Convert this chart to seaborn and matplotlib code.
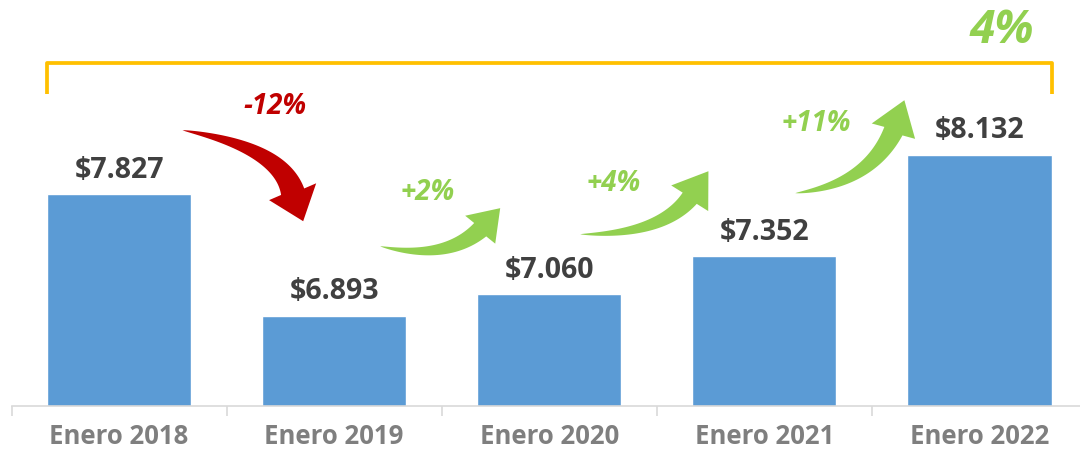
import numpy as np
import pandas as pd
import seaborn as sns
import matplotlib.pyplot as plt
from matplotlib.patches import Polygon

meses = ['Enero 2018', 'Enero 2019', 'Enero 2020', 'Enero 2021', 'Enero 2022']
valores = [7827, 6893, 7060, 7352, 8132]

data = pd.DataFrame({'mes': meses, 'valor': valores})

# variaciones entre anios y total
cambios = np.diff(valores) / np.array(valores[:-1]) * 100
total = (valores[-1] - valores[0]) / valores[0] * 100

AZUL = '#5B9BD5'
ROJO = '#C00000'
VERDE = '#92D050'
AMARILLO = '#FFC000'
ANCHO_BARRA = 0.67

sns.set_theme(style="white")
plt.rcParams['font.family'] = ['Open Sans', 'DejaVu Sans']

fig = plt.figure(figsize=(10.8, 4.55), dpi=100)
ax = fig.add_axes([11.5/1080, 49/455, 1075.5/1080, 406/455])

sns.barplot(x='mes', y='valor', data=data, color=AZUL, width=ANCHO_BARRA,
            saturation=1, ax=ax)
ax.set_xlim(-0.5, 4.5)
ax.set_ylim(6205, 9316)
ax.set_xlabel('')
ax.set_ylabel('')
ax.set_yticks([])

for s in ['left', 'top', 'right']:
    ax.spines[s].set_visible(False)
ax.spines['bottom'].set_color('#D9D9D9')
ax.spines['bottom'].set_linewidth(1.2)

ax.set_xticks(np.arange(-0.5, 5, 1), minor=True)
ax.tick_params(axis='x', which='minor', bottom=True, length=7, width=1.2,
               color='#D9D9D9', direction='out')
ax.tick_params(axis='x', which='major', length=0, pad=12, labelsize=18.5,
               labelcolor='#7F7F7F')
for lbl in ax.get_xticklabels():
    lbl.set_fontweight('bold')

etiquetas = ['$' + f'{v:,}'.replace(',', '.') for v in valores]
ax.bar_label(ax.containers[0], labels=etiquetas, padding=7, fontsize=20.5,
             fontweight='bold', color='#404040')


def flecha(cola, control, base, punta, ancho, cabeza, color):
    P = ax.transData.transform([cola, control, base, punta])
    t = np.linspace(0, 1, 80)[:, None]
    curva = (1 - t)**2 * P[0] + 2 * (1 - t) * t * P[1] + t**2 * P[2]
    d = 2 * (1 - t) * (P[1] - P[0]) + 2 * t * (P[2] - P[1])
    n = np.column_stack([-d[:, 1], d[:, 0]])
    n /= np.linalg.norm(n, axis=1)[:, None]
    w = ancho / 2 * t**0.75
    a = curva + n * w
    b = curva - n * w
    eje = P[3] - P[2]
    perp = np.array([-eje[1], eje[0]]) / np.linalg.norm(eje)
    pts = np.vstack([a, P[2] + perp * cabeza / 2, P[3],
                     P[2] - perp * cabeza / 2, b[::-1]])
    pts = ax.transData.inverted().transform(pts)
    ax.add_patch(Polygon(pts, closed=True, fc=color, ec='none',
                         clip_on=False, zorder=5))


# flechas: cola, control, base de la cabeza, punta (coordenadas de datos)
flechas = [
    ((0.295, 8318), (0.749, 8188), (0.807, 7847), (0.856, 7621), 24, 50),
    ((1.214, 7429), (1.516, 7314), (1.679, 7556), (1.772, 7721), 18, 41),
    ((2.144, 7521), (2.516, 7514), (2.653, 7797), (2.740, 8004), 18, 45),
    ((3.144, 7836), (3.484, 7904), (3.600, 8311), (3.651, 8548), 20, 46),
]
pos_texto = [(0.726, 8502), (1.433, 7843), (2.298, 7912), (3.242, 8372)]

for (c0, c1, c2, c3, an, ca), (tx, ty), cam in zip(flechas, pos_texto, cambios):
    col = ROJO if cam < 0 else VERDE
    flecha(c0, c1, c2, c3, an, ca, col)
    ax.text(tx, ty, f'{cam:+.0f}%', ha='center', va='center', fontsize=20,
            fontweight='bold', fontstyle='italic', color=col)

# corchete del periodo completo
x0 = 0 - ANCHO_BARRA / 2
x1 = len(valores) - 1 + ANCHO_BARRA / 2
ax.plot([x0, x0, x1, x1], [8594, 8832, 8832, 8594], color=AMARILLO, lw=2.7,
        solid_joinstyle='round', solid_capstyle='butt', clip_on=False)
ax.text(4.102, 9080, f'{total:.0f}%', ha='center', va='center', fontsize=33,
        fontweight='bold', fontstyle='italic', color=VERDE)

plt.savefig('out.png', dpi=100)
